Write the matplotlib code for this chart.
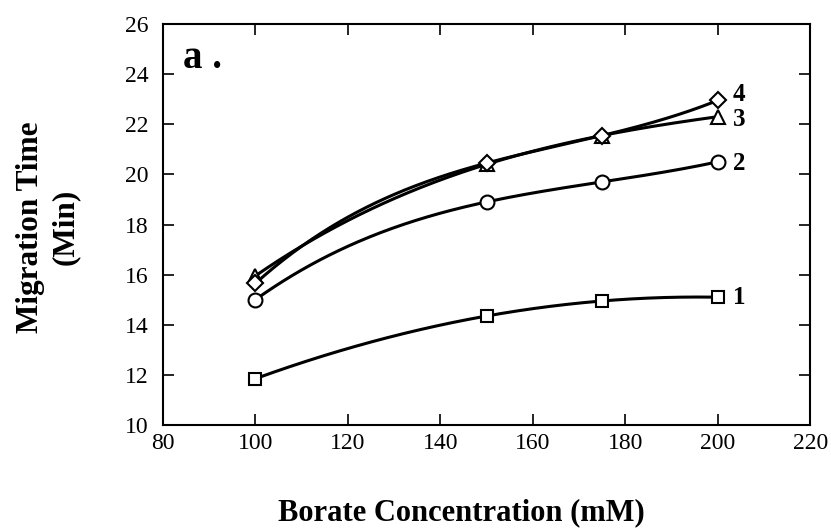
import numpy as np
import matplotlib
matplotlib.use("Agg")
import matplotlib.pyplot as plt

# borate concentration (mM) and migration times (min) for the four peaks
borate = [100, 150, 175, 200]
peak1 = [11.85, 14.35, 14.95, 15.10]
peak2 = [15.00, 18.90, 19.70, 20.50]
peak3 = [15.95, 20.40, 21.55, 22.30]
peak4 = [15.65, 20.45, 21.55, 22.95]
peak_labels = ["1", "2", "3", "4"]

plt.rcParams["font.family"] = "Liberation Serif"

fig = plt.figure(figsize=(8.31, 5.32), dpi=100)
ax = fig.add_axes([0.196, 0.201, 0.779, 0.754])

series = [
    (peak1, "s", 9),
    (peak2, "o", 10),
    (peak3, "^", 9.5),
    (peak4, "D", 8),
]
xs = np.array(borate, dtype=float)
xf = np.linspace(xs[0], xs[-1], 200)
for ys, mk, ms in series:
    # smooth curve through the measured points
    coef = np.polyfit(xs, ys, 3)
    ax.plot(xf, np.polyval(coef, xf), color="black", lw=2.2, zorder=2)
    ax.plot(xs, ys, ls="none", marker=mk, ms=ms, mfc="white", mec="black",
            mew=1.5, zorder=3)

label_y = [15.1, 20.45, 22.2, 23.17]
for lab, ly in zip(peak_labels, label_y):
    ax.text(203.3, ly, lab, fontsize=18, fontweight="bold", va="center", ha="left")

ax.text(84.3, 24.64, "a .", fontsize=28, fontweight="bold", va="center", ha="left")

ax.set_xlim(80, 220)
ax.set_ylim(10, 26)
ax.set_xticks(np.arange(80, 221, 20))
ax.set_yticks(np.arange(10, 27, 2))
ax.tick_params(direction="in", length=8, width=1.2, top=True, right=True,
               labelsize=17)
ax.tick_params(axis="x", pad=6)
ax.tick_params(axis="y", pad=10)
for sp in ax.spines.values():
    sp.set_linewidth(1.5)

fig.text(461 / 831, 1 - 513 / 532, "Borate Concentration (mM)", fontsize=22,
         fontweight="bold", ha="center", va="center")
fig.text(48 / 831, 1 - 227 / 532, "Migration Time\n(Min)", fontsize=22.5,
         fontweight="bold", ha="center", va="center", rotation=90,
         multialignment="center", linespacing=1.25)

fig.savefig("out.png", dpi=100)
